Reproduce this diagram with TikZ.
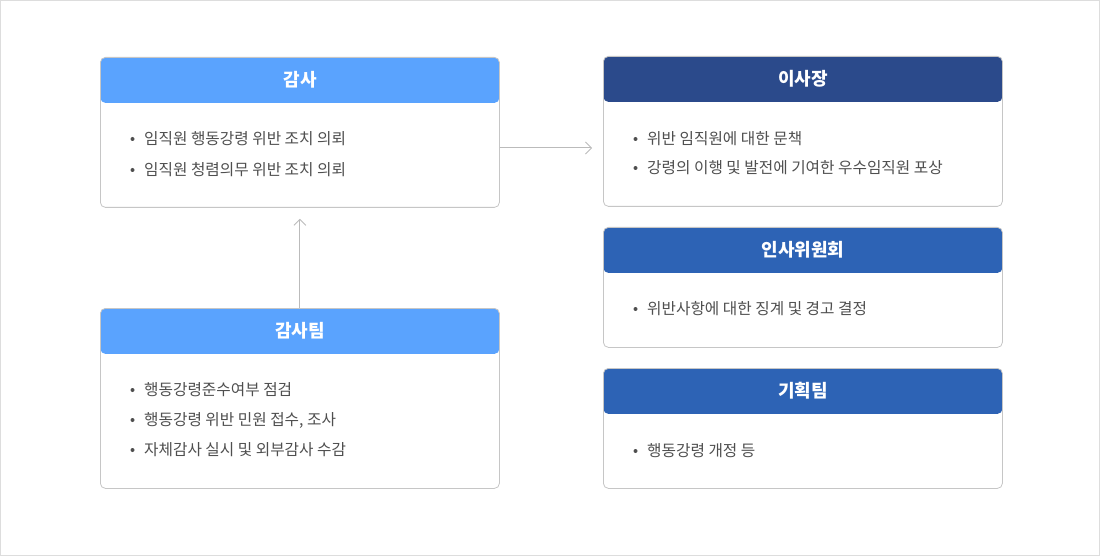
\documentclass[tikz,border=0pt]{standalone}
\usepackage{fontspec}
\setmainfont{Noto Sans CJK KR}
\usetikzlibrary{arrows.meta}
\definecolor{lb}{HTML}{5AA3FE}
\definecolor{nv}{HTML}{2B4A8B}
\definecolor{md}{HTML}{2D63B5}
\definecolor{bd}{HTML}{C6C6C6}
\definecolor{tx}{HTML}{4F4F4F}
\definecolor{ln}{HTML}{BBBBBB}
\definecolor{frame}{HTML}{DDDDDD}
\begin{document}
\begin{tikzpicture}[x=1pt,y=-1pt,
  box/.style n args={2}{draw=bd, line width=0.8pt, fill=white, rounded corners=5pt,
    minimum width=399pt, minimum height=#2, inner sep=0pt, anchor=north west,
    path picture={\fill[#1] (path picture bounding box.north west) rectangle ([yshift=-45.5pt]path picture bounding box.north east);}},
  hdrtext/.style={text=white, font=\fontsize{18}{20}\selectfont\bfseries, inner sep=0pt},
  item/.style={text=tx, font=\fontsize{15.7}{18}\selectfont, anchor=west, inner sep=0pt},
  bul/.style={fill=tx},
  arr/.style={draw=ln, line width=1pt, -{Straight Barb[length=6pt,width=12pt,line width=0.8pt]}}
]
\useasboundingbox (0,0) rectangle (1100,556);
\draw[frame, line width=1pt] (0.5,0.5) rectangle (1099.5,555.5);

% boxes
\node[box={lb}{150pt}] (gamsa) at (100,57) {};
\node[box={lb}{180pt}] (team) at (100,308) {};
\node[box={nv}{150pt}] (isa) at (603,56) {};
\node[box={md}{120pt}] (insa) at (603,227) {};
\node[box={md}{120pt}] (plan) at (603,368) {};

% headers
\node[hdrtext] (gamsaT) at (300,80) {감사};
\node[hdrtext] (teamT) at (300,331) {감사팀};
\node[hdrtext] (isaT) at (803,79) {이사장};
\node[hdrtext] (insaT) at (803,250) {인사위원회};
\node[hdrtext] (planT) at (803,391) {기획팀};

% items
\node[item] (g1) at (144,139) {임직원 행동강령 위반 조치 의뢰};
\node[item] (g2) at (144,170) {임직원 청렴의무 위반 조치 의뢰};
\node[item] (t1) at (144,390) {행동강령준수여부 점검};
\node[item] (t2) at (144,420) {행동강령 위반 민원 접수, 조사};
\node[item] (t3) at (144,450) {자체감사 실시 및 외부감사 수감};
\node[item] (i1) at (647,139) {위반 임직원에 대한 문책};
\node[item] (i2) at (647,168) {강령의 이행 및 발전에 기여한 우수임직원 포상};
\node[item] (s1) at (647,309) {위반사항에 대한 징계 및 경고 결정};
\node[item] (p1) at (647,451) {행동강령 개정 등};

\foreach \n in {g1,g2,t1,t2,t3,i1,i2,s1,p1}
  \fill[bul] ([xshift=-11.5pt]\n.west) circle (2pt);

% connectors
\coordinate (a1) at (592,148);
\draw[arr] (gamsa.east |- a1) -- (a1);
\draw[arr] (team.north) -- ([yshift=-11pt]gamsa.south);
\end{tikzpicture}
\end{document}
